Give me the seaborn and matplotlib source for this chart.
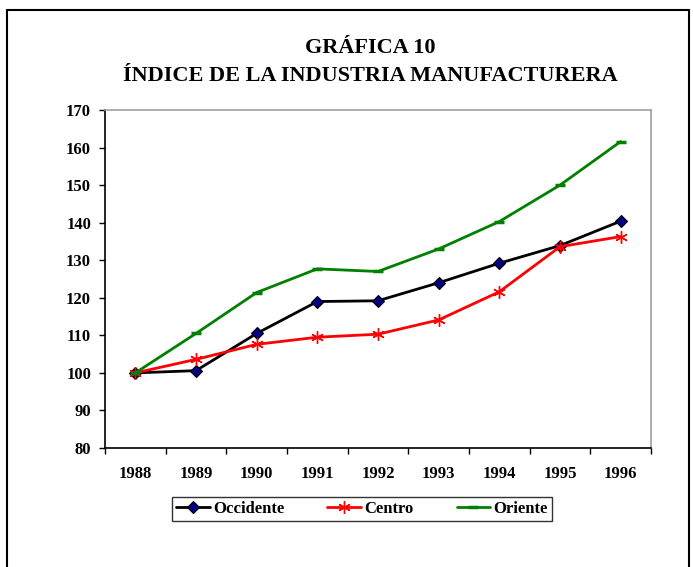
import matplotlib
matplotlib.use("Agg")
import matplotlib.pyplot as plt
import seaborn as sns
import pandas as pd
from matplotlib.patches import Rectangle

years = [1988, 1989, 1990, 1991, 1992, 1993, 1994, 1995, 1996]
occidente = [100.0, 100.6, 110.5, 119.0, 119.2, 124.0, 129.2, 133.9, 140.4]
centro = [100.0, 103.6, 107.6, 109.5, 110.3, 114.1, 121.6, 133.6, 136.3]
oriente = [100.0, 110.5, 121.4, 127.7, 127.0, 133.0, 140.3, 150.0, 161.6]
title_lines = ["GRÁFICA 10", "ÍNDICE DE LA INDUSTRIA MANUFACTURERA"]
yticks = [80, 90, 100, 110, 120, 130, 140, 150, 160, 170]

sns.set_theme(style="white", rc={"text.color": "black", "xtick.color": "black",
                                 "ytick.color": "black", "axes.labelcolor": "black"})
plt.rcParams['font.family'] = ['Liberation Serif', 'DejaVu Serif']
plt.rcParams['font.weight'] = 'bold'

df = pd.DataFrame({"year": years, "Occidente": occidente,
                   "Centro": centro, "Oriente": oriente})

fig = plt.figure(figsize=(6.93, 5.67), dpi=100)
ax = fig.add_axes([105/693, 1-448/567, (651-105)/693, (448-110)/567])

sns.lineplot(data=df, x="year", y="Occidente", ax=ax, color="black", lw=2,
             marker="D", markersize=6, markerfacecolor="#000080",
             markeredgecolor="black", markeredgewidth=0.8, label="Occidente")
sns.lineplot(data=df, x="year", y="Centro", ax=ax, color="red", lw=2,
             marker=(6, 2, 0), markersize=9, markeredgecolor="red",
             markeredgewidth=1.0, label="Centro")
sns.lineplot(data=df, x="year", y="Oriente", ax=ax, color="#008000", lw=2,
             marker="_", markersize=7, markeredgecolor="#008000",
             markeredgewidth=2.5, label="Oriente")

ax.set_xlim(years[0]-0.5, years[-1]+0.5)
ax.set_ylim(80, 170)
ax.set_yticks(yticks)
ax.set_xticks(years)
ax.set_xticks([y-0.5 for y in years] + [years[-1]+0.5], minor=True)
ax.tick_params(axis='x', which='major', length=0, pad=13, labelsize=12, labelcolor='black')
ax.tick_params(axis='x', which='minor', length=4, width=1, color='black', direction='out', bottom=True)
ax.tick_params(axis='y', which='major', length=4, width=1, color='black', direction='out', left=True, labelsize=12, pad=6, labelcolor='black')
for lab in ax.get_xticklabels() + ax.get_yticklabels():
    lab.set_fontweight('bold')
ax.set_xlabel("")
ax.set_ylabel("")
for s in ['left', 'bottom']:
    ax.spines[s].set_color('black')
    ax.spines[s].set_linewidth(1.2)
for s in ['top', 'right']:
    ax.spines[s].set_color('#a0a0a0')
    ax.spines[s].set_linewidth(1.2)
ax.grid(False)

ax.get_legend().remove()
handles, labels = ax.get_legend_handles_labels()
leg = fig.legend(handles, labels, loc='center', bbox_to_anchor=(362/693, 1-509/567),
                 ncol=3, frameon=True, fancybox=False, edgecolor='black',
                 handlelength=2.0, handletextpad=0.2, columnspacing=2.6,
                 prop={'weight': 'bold', 'size': 12, 'family': 'Liberation Serif'},
                 borderpad=0.25)
leg.get_frame().set_linewidth(1.0)
for t in leg.get_texts():
    t.set_color('black')

fig.text(370/693, 1-48/567, title_lines[0], ha='center', va='center',
         fontsize=16, fontweight='bold', color='black')
fig.text(370/693, 1-76/567, title_lines[1], ha='center', va='center',
         fontsize=16, fontweight='bold', color='black')

fig.patches.append(Rectangle((7/693, -0.05), (689-7)/693, 1-10/567+0.05,
                             transform=fig.transFigure, fill=False,
                             edgecolor='black', linewidth=1.5))

fig.savefig("out.png", dpi=100)
